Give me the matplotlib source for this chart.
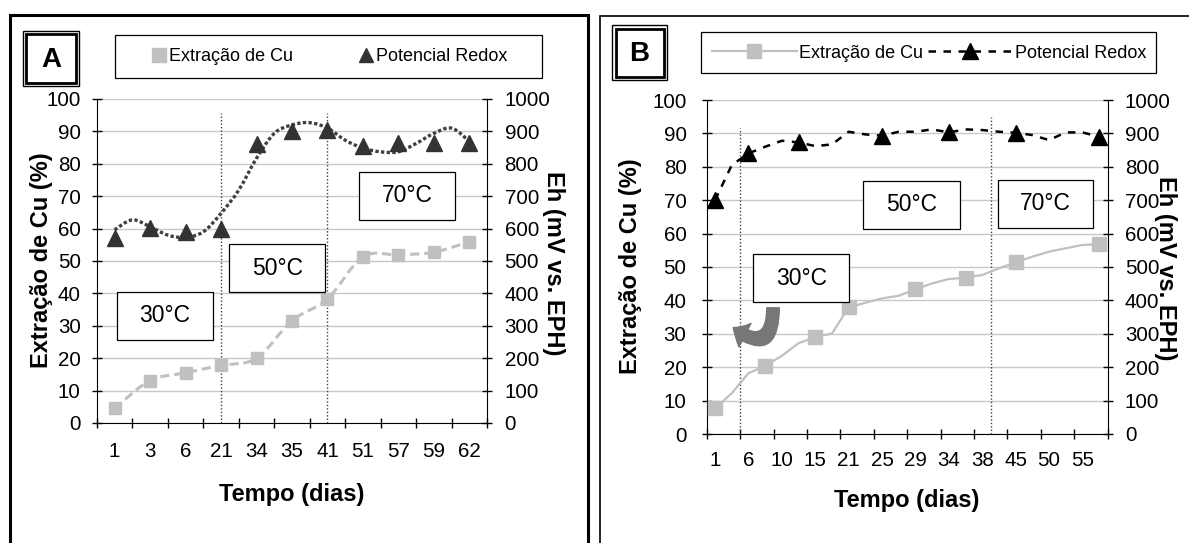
import matplotlib.pyplot as plt
from matplotlib.lines import Line2D
from matplotlib.patches import Rectangle, PathPatch, FancyArrowPatch
from matplotlib.path import Path

plt.rcParams['font.family'] = ['Liberation Sans', 'DejaVu Sans']

# tamanho da figura em pixels (dpi 100)
W, H = 1189, 543

# ---------------- dados painel A ----------------
dias_a = ['1', '3', '6', '21', '34', '35', '41', '51', '57', '59', '62']
cu_a = [4.5, 13.1, 15.5, 17.8, 20.0, 31.6, 38.3, 51.3, 51.9, 52.7, 56.0]
redox_a = [571, 602, 590, 600, 861, 901, 903, 855, 864, 864, 864]
# curva pontilhada do potencial, lida a cada meia categoria
redox_a_curva = [596, 627, 606, 580, 573, 590, 647, 719, 817, 894, 920,
                 927, 910, 873, 848, 837, 837, 863, 894, 910, 869]
divisao_a = ['21', '41']

# ---------------- dados painel B ----------------
dias_b = ['1', '6', '10', '15', '21', '25', '29', '34', '38', '45', '50', '55']
cu_b = [7.7, 12.2, 18.2, 20.4, 23.4, 27.2, 29.0, 30.1, 37.9, 39.3, 40.6, 41.4,
        43.3, 45.1, 46.4, 46.8, 47.6, 49.6, 51.4, 53.1, 54.6, 55.6, 56.6, 56.8]
redox_b = [700, 805, 840, 860, 878, 873, 862, 867, 905, 897, 893, 905,
           905, 912, 903, 912, 910, 905, 902, 895, 880, 903, 903, 890]
cu_b_marcas = [0, 3, 6, 8, 12, 15, 18, 23]
redox_b_marcas = [0, 2, 5, 10, 14, 18, 23]
divisao_b = [2, 17]

CINZA = '#c0c0c0'
ESCURO = '#333333'
GRADE = '#c8c8c8'
TAM_TICK = 14.8


def fx(x):
    return x / W


def fy(y):
    return 1 - y / H


def curva_suave(xs, ys):
    # linha suavizada (estilo Excel) com curvas de Bezier
    pts = list(zip(xs, ys))
    n = len(pts)
    verts = [pts[0]]
    codes = [Path.MOVETO]
    for i in range(n - 1):
        p0 = pts[i - 1] if i > 0 else pts[i]
        p1, p2 = pts[i], pts[i + 1]
        p3 = pts[i + 2] if i + 2 < n else pts[i + 1]
        c1 = (p1[0] + (p2[0] - p0[0]) / 6, p1[1] + (p2[1] - p0[1]) / 6)
        c2 = (p2[0] - (p3[0] - p1[0]) / 6, p2[1] - (p3[1] - p1[1]) / 6)
        verts += [c1, c2, p2]
        codes += [Path.CURVE4] * 3
    return Path(verts, codes)


def prepara_eixos(ax, ax2, pad_esq, pad_dir, pad_x):
    ax.set_ylim(0, 100)
    ax.set_yticks(range(0, 101, 10))
    ax2.set_ylim(0, 1000)
    ax2.set_yticks(range(0, 1001, 100))
    ax.set_axisbelow(True)
    ax.yaxis.grid(True, color=GRADE, lw=1)
    for a in (ax, ax2):
        a.spines['top'].set_visible(False)
        a.patch.set_visible(False)
    ax.spines['right'].set_visible(False)
    ax2.spines['left'].set_visible(False)
    ax2.spines['bottom'].set_visible(False)
    ax.spines['left'].set_color('black')
    ax.spines['bottom'].set_color('black')
    ax2.spines['right'].set_color('black')
    ax.tick_params(axis='y', direction='inout', length=7, width=1,
                   labelsize=TAM_TICK, pad=pad_esq)
    ax2.tick_params(axis='y', direction='inout', length=7, width=1,
                    labelsize=TAM_TICK, pad=pad_dir)
    ax.tick_params(axis='x', which='major', length=0, labelsize=TAM_TICK,
                   pad=pad_x)
    ax.tick_params(axis='x', which='minor', direction='inout', length=7, width=1)


def caixa(x0, y0, x1, y1, texto=None, size=16.5, lw=0.9):
    fig.add_artist(Rectangle((fx(x0), fy(y1)), fx(x1) - fx(x0), fy(y0) - fy(y1),
                             transform=fig.transFigure, fc='white', ec='black',
                             lw=lw, zorder=6))
    if texto:
        fig.text(fx((x0 + x1) / 2), fy((y0 + y1) / 2), texto, ha='center',
                 va='center', fontsize=size, zorder=7)


def rotulo_painel(x0, y0, x1, y1, letra):
    fig.add_artist(Rectangle((fx(x0), fy(y1)), fx(x1) - fx(x0), fy(y0) - fy(y1),
                             transform=fig.transFigure, fc='white', ec='black',
                             lw=1.0, zorder=6))
    d = 3.5
    fig.add_artist(Rectangle((fx(x0 + d), fy(y1 - d)), fx(x1 - d) - fx(x0 + d),
                             fy(y0 + d) - fy(y1 - d), transform=fig.transFigure,
                             fc='white', ec='black', lw=2.0, zorder=6))
    fig.text(fx((x0 + x1) / 2), fy((y0 + y1) / 2) - 0.002, letra, ha='center',
             va='center', fontsize=20, fontweight='heavy', zorder=7)


fig = plt.figure(figsize=(W / 100, H / 100), dpi=100)

# molduras dos paineis
fig.add_artist(Rectangle((fx(10), fy(600)), fx(588) - fx(10), fy(15) - fy(600),
                         transform=fig.transFigure, fill=False, ec='black', lw=2.2))
fig.add_artist(Rectangle((fx(600), fy(600)), fx(1250) - fx(600), fy(16) - fy(600),
                         transform=fig.transFigure, fill=False, ec='black', lw=1.2))

# ================= PAINEL A =================
axA = fig.add_axes([fx(96.8), fy(423), fx(487.2) - fx(96.8), fy(99) - fy(423)])
axA2 = axA.twinx()
prepara_eixos(axA, axA2, 8.0, 9.0, 14.0)
xa = list(range(len(dias_a)))
axA.set_xlim(-0.5, len(dias_a) - 0.5)
axA.set_xticks(xa)
axA.set_xticklabels(dias_a)
axA.set_xticks([i - 0.5 for i in range(len(dias_a) + 1)], minor=True)

for d in divisao_a:
    axA.axvline(dias_a.index(d) + 0.0, ymin=0, ymax=0.957, color='#404040',
                lw=1, ls=(0, (1, 1.5)))

axA.add_patch(PathPatch(curva_suave(xa, cu_a), fill=False, ec=CINZA, lw=2.2,
                        ls=(0, (3, 1.6)), zorder=3))
axA.plot(xa, cu_a, ls='none', marker='s', ms=8.5, color=CINZA, zorder=4)

xa_curva = [i / 2 for i in range(len(redox_a_curva))]
axA2.add_patch(PathPatch(curva_suave(xa_curva, redox_a_curva), fill=False,
                         ec='#404040', lw=2.4, ls=(0, (1, 0.7)), zorder=3))
axA2.plot(xa, redox_a, ls='none', marker='^', ms=11, color=ESCURO, zorder=4)

fig.text(fx(42), fy(260), 'Extração de Cu (%)', rotation=90, ha='center',
         va='center', fontsize=17, fontweight='bold')
fig.text(fx(553), fy(263), 'Eh (mV vs. EPH)', rotation=-90, ha='center',
         va='center', fontsize=17, fontweight='bold')
fig.text(fx(292), fy(495), 'Tempo (dias)', ha='center', va='center',
         fontsize=17, fontweight='bold')

caixa(116.7, 292, 212.8, 340, '30°C')
caixa(228.9, 244, 325.3, 292, '50°C')
caixa(359, 172, 455.4, 220, '70°C')

# legenda A
caixa(115, 35.3, 541.7, 78)
hA = [Line2D([], [], ls='none', marker='s', ms=9.4, color=CINZA),
      Line2D([], [], ls='none', marker='^', ms=10.5, color=ESCURO)]
legA = fig.legend(hA, ['Extração de Cu', 'Potencial Redox'], loc='center',
                  bbox_to_anchor=(fx(330), fy(56.5)), ncol=2, frameon=False,
                  fontsize=13, handlelength=0.8, handletextpad=0.15,
                  columnspacing=3.65, borderpad=0, borderaxespad=0)
legA.set_zorder(8)
rotulo_painel(22.7, 30.7, 79.3, 86.3, 'A')

# ================= PAINEL B =================
axB = fig.add_axes([fx(706.7), fy(434), fx(1107.5) - fx(706.7), fy(100) - fy(434)])
axB2 = axB.twinx()
prepara_eixos(axB, axB2, 11.0, 9.0, 12.5)
xb = list(range(len(cu_b)))
axB.set_xlim(-0.5, len(cu_b) - 0.5)
axB.set_xticks(xb[::2])
axB.set_xticklabels(dias_b)
axB.set_xticks([i - 0.5 for i in range(0, len(cu_b) + 1, 2)], minor=True)

for d, topo in zip(divisao_b, [0.916, 0.949]):
    axB.axvline(d - 0.5, ymin=0, ymax=topo, color='#404040', lw=1,
                ls=(0, (1, 1.5)))

axB.plot(xb, cu_b, color=CINZA, lw=1.6, zorder=3)
axB.plot([xb[i] for i in cu_b_marcas], [cu_b[i] for i in cu_b_marcas],
         ls='none', marker='s', ms=10, color=CINZA, zorder=4)
axB2.plot(xb, redox_b, color='black', lw=1.8, ls=(0, (3, 3)), zorder=3)
axB2.plot([xb[i] for i in redox_b_marcas], [redox_b[i] for i in redox_b_marcas],
          ls='none', marker='^', ms=11.5, color='black', zorder=4)

fig.text(fx(631), fy(266), 'Extração de Cu (%)', rotation=90, ha='center',
         va='center', fontsize=17, fontweight='bold')
fig.text(fx(1165), fy(268), 'Eh (mV vs. EPH)', rotation=-90, ha='center',
         va='center', fontsize=17, fontweight='bold')
fig.text(fx(907), fy(500), 'Tempo (dias)', ha='center', va='center',
         fontsize=17, fontweight='bold')

caixa(753.3, 254.3, 849.3, 302.3, '30°C')
caixa(863, 181, 959.8, 228.7, '50°C')
caixa(997.7, 180, 1093.3, 227.7, '70°C')

seta = FancyArrowPatch((fx(773), fy(305)), (fx(731), fy(326)),
                       transform=fig.transFigure,
                       connectionstyle='arc3,rad=-1.05',
                       arrowstyle='simple,head_length=10,head_width=19,tail_width=9',
                       color='#777777', zorder=7)
fig.add_artist(seta)

# legenda B
caixa(701, 32.3, 1155.6, 73.3)
hB = [Line2D([], [], color=CINZA, lw=1.6, marker='s', ms=10),
      Line2D([], [], color='black', lw=1.8, ls=(0, (3, 3)), marker='^', ms=11)]
legB = fig.legend(hB, ['Extração de Cu', 'Potencial Redox'], loc='center',
                  bbox_to_anchor=(fx(929), fy(53)), ncol=2, frameon=False,
                  fontsize=13, handlelength=4.7, handletextpad=0.1,
                  columnspacing=0.3, borderpad=0, borderaxespad=0)
legB.set_zorder(8)
rotulo_painel(612, 25, 667, 80, 'B')

fig.savefig('out.png', dpi=100)
